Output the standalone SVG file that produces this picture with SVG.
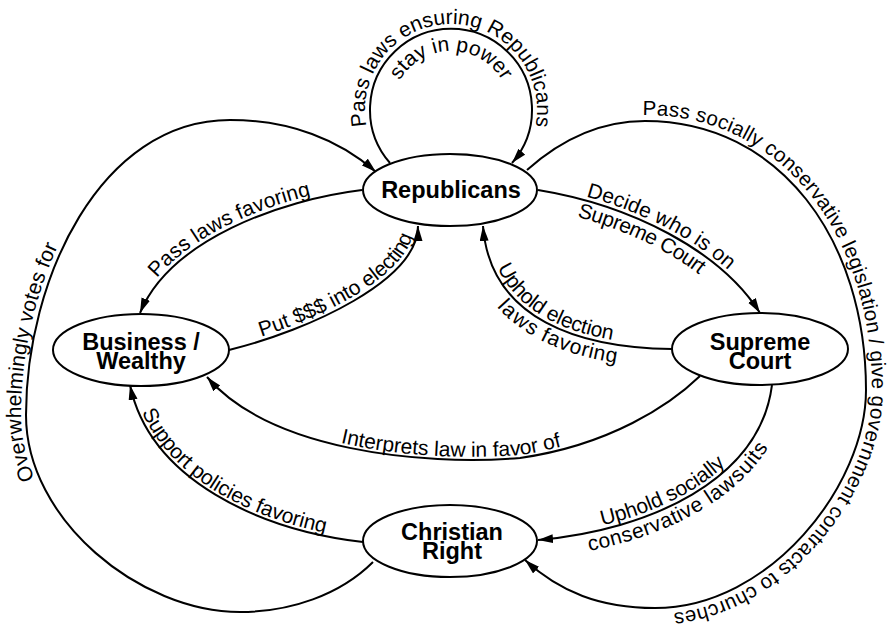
<svg xmlns="http://www.w3.org/2000/svg" width="889" height="632" viewBox="0 0 889 632">
<defs>
<style>
.node ellipse{fill:#fff;stroke:#000;stroke-width:2}
.node text{font-family:"Liberation Sans",Arial,sans-serif;font-weight:bold;font-size:23.5px;text-anchor:middle;fill:#000}
.edge{fill:none;stroke:#000;stroke-width:2;marker-end:url(#arr)}
.lbl{font-family:"Liberation Sans",Arial,sans-serif;font-size:21px;fill:#000}
.guide{fill:none;stroke:none}
</style>
<marker id="arr" markerUnits="userSpaceOnUse" markerWidth="16" markerHeight="10" refX="15" refY="4.5" orient="auto"><path d="M0,0 L15,4.5 L0,9 z" fill="#000"/></marker>
<path id="lp-self-out" class="guide" d="M376.5,153 A86,86 0 1,1 525.5,153"/>
<path id="lp-self-in" class="guide" d="M399.9,139.5 A59,59 0 1,1 502.1,139.5"/>
<path id="lp-rb" class="guide" d="M140,313 C170,240 280,200 362,190"/>
<path id="lp-sr" class="guide" d="M483,226 C490,320 580,348 672,349"/>
<path id="lp-sb" class="guide" d="M207,377 C270,450 420,466 520,458 C610,445 670,405 700,376"/>
<path id="lp-cb" class="guide" d="M130,385 C150,480 260,530 363,542"/>
<path id="lp-sc" class="guide" d="M538,540 C650,530 760,480 772,385"/>
</defs>
<rect width="889" height="632" fill="#fff"/>
<g id="connectors">
<path id="e-self" class="edge" d="M390,163 A81,81 0 1,1 512,163"/>
<path id="e-rb" class="edge" d="M362,190 C280,200 170,240 140,313"/>
<path id="e-br" class="edge" d="M229,350 C310,330 418,280 418,226"/>
<path id="e-rs" class="edge" d="M538,190 C630,205 720,250 760,313"/>
<path id="e-sr" class="edge" d="M672,349 C580,348 490,320 483,226"/>
<path id="e-sb" class="edge" d="M700,376 C670,405 610,445 520,458 C420,466 270,450 207,377"/>
<path id="e-cb" class="edge" d="M363,542 C260,530 150,480 130,385"/>
<path id="e-sc" class="edge" d="M772,385 C760,480 650,530 538,540"/>
<path id="e-cr" class="edge" d="M373,562 C340,595 290,612 240,612 C140,612 26,520 26,415 C26,280 100,120 230,120 C290,120 340,140 376,172"/>
<path id="e-rc" class="edge" d="M527,170 C555,145 595,121 645,121 C780,121 866,240 866,390 C866,485 770,608 655,608 C600,608 560,592 525,560"/>
<text class="lbl"><textPath href="#lp-self-out" startOffset="50%" text-anchor="middle">Pass laws ensuring Republicans</textPath></text>
<text class="lbl"><textPath href="#lp-self-in" startOffset="50%" text-anchor="middle">stay in power</textPath></text>
<text class="lbl" dy="-4"><textPath href="#lp-rb" startOffset="38">Pass laws favoring</textPath></text>
<text class="lbl" dy="-4"><textPath href="#e-br" startOffset="35">Put $$$ into electing</textPath></text>
<text class="lbl" dy="-4"><textPath href="#e-rs" startOffset="48">Decide who is on</textPath></text>
<text class="lbl" dy="18"><textPath href="#e-rs" startOffset="45">Supreme Court</textPath></text>
<text class="lbl" dy="-4"><textPath href="#lp-sr" startOffset="45">Uphold election</textPath></text>
<text class="lbl" dy="18"><textPath href="#lp-sr" startOffset="75">laws favoring</textPath></text>
<text class="lbl" dy="-3"><textPath href="#lp-sb" startOffset="152">Interprets law in favor of</textPath></text>
<text class="lbl" dy="-3"><textPath href="#lp-cb" startOffset="30">Support policies favoring</textPath></text>
<text class="lbl" dy="-4"><textPath href="#lp-sc" startOffset="66">Uphold socially</textPath></text>
<text class="lbl" dy="18"><textPath href="#lp-sc" startOffset="48">conservative lawsuits</textPath></text>
<text class="lbl" dy="-5"><textPath href="#e-cr" startOffset="400">Overwhelmingly votes for</textPath></text>
<text class="lbl" dy="-6" style="font-size:20.5px"><textPath href="#e-rc" startOffset="128">Pass socially conservative legislation / give government contracts to churches</textPath></text>
</g>
<g id="republicans" class="node"><ellipse cx="450" cy="190" rx="87" ry="36"/><text x="451" y="198">Republicans</text></g>
<g id="business" class="node"><ellipse cx="141" cy="350" rx="88" ry="36"/><text x="141" y="350">Business /</text><text x="141" y="369">Wealthy</text></g>
<g id="supreme" class="node"><ellipse cx="760" cy="349" rx="88" ry="36"/><text x="760" y="350">Supreme</text><text x="760" y="369">Court</text></g>
<g id="christian" class="node"><ellipse cx="450" cy="541" rx="87" ry="36"/><text x="452" y="540">Christian</text><text x="452" y="559">Right</text></g>
</svg>
